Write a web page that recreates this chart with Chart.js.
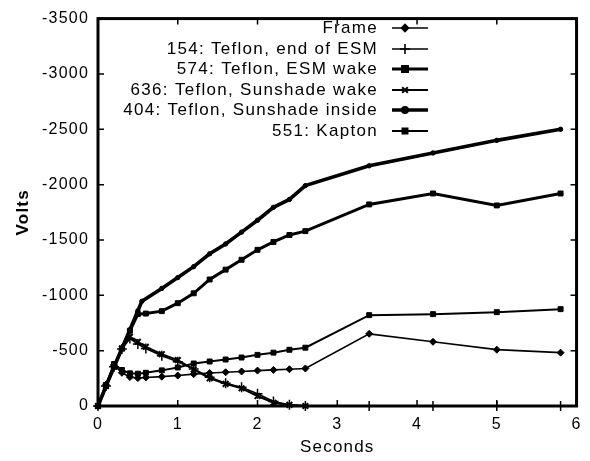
<!DOCTYPE html>
<html>
<head>
<meta charset="utf-8">
<script src="https://cdn.jsdelivr.net/npm/chart.js@4.4.0/dist/chart.umd.min.js"></script>
<style>
  html, body { margin: 0; padding: 0; background: #fff; }
  #wrap { width: 590px; height: 461px; }
</style>
</head>
<body>
<div id="wrap"><canvas id="c" width="590" height="461"></canvas></div>
<script>
// ---- Data (seconds, volts) ----
const seriesLabels = [
  "Frame",
  "154: Teflon, end of ESM",
  "574: Teflon, ESM wake",
  "636: Teflon, Sunshade wake",
  "404: Teflon, Sunshade inside",
  "551: Kapton"
];

const tMain = [0, 0.1, 0.2, 0.3, 0.4, 0.5, 0.6, 0.8, 1.0, 1.2, 1.4, 1.6, 1.8, 2.0, 2.2, 2.4, 2.6, 3.4, 4.2, 5.0, 5.8];

const frameV   = [0, -190, -370, -300, -262, -252, -258, -265, -275, -288, -298, -305, -312, -320, -326, -332, -339, -652, -580, -509, -482];
const esmEndV  = [0, -180, -355, -515, -610, -560, -520, -455, -400, -335, -260, -205, -170, -110, -40, -12, 0, 0, 0, 0, 0];
const esmWakeV = [0, -180, -355, -520, -680, -830, -835, -857, -929, -1018, -1143, -1232, -1321, -1411, -1482, -1545, -1580, -1821, -1920, -1812, -1920];
const kaptonV  = [0, -190, -380, -325, -295, -292, -300, -322, -348, -384, -402, -420, -438, -462, -482, -508, -527, -821, -830, -848, -875];

const tSunWake = [0, 0.1, 0.2, 0.3, 0.4, 0.5, 0.6, 0.8, 1.0, 1.2, 1.4, 1.6, 1.8, 2.0, 2.2, 2.4, 2.6];
const sunWakeV = [0, -180, -355, -520, -625, -580, -535, -468, -415, -330, -250, -200, -160, -90, -30, -10, 0];

const tSunIn = [0, 0.1, 0.2, 0.3, 0.4, 0.5, 0.55, 0.8, 1.0, 1.2, 1.4, 1.6, 1.8, 2.0, 2.2, 2.4, 2.6, 3.4, 4.2, 5.0, 5.8];
const sunInV = [0, -180, -350, -520, -690, -860, -946, -1062, -1160, -1259, -1375, -1464, -1571, -1678, -1795, -1866, -1991, -2170, -2286, -2400, -2500];

const xTicks = [0, 1, 2, 3, 4, 5, 6];
const yTicks = [0, -500, -1000, -1500, -2000, -2500, -3000, -3500];

function pts(xs, ys) { return xs.map((x, i) => ({ x: x, y: ys[i] })); }

const FONT = "'Liberation Sans', Arial, Helvetica, sans-serif";

const styles = [
  { pointStyle: 'rectRot', radius: 3.5, bw: 1.6, pbw: 1 },
  { pointStyle: 'cross', radius: 5, bw: 1.6, pbw: 1.5 },
  { pointStyle: 'rect', radius: 3.5, bw: 3, pbw: 1 },
  { pointStyle: 'crossRot', radius: 4, bw: 2, pbw: 2 },
  { pointStyle: 'circle', radius: 2.2, bw: 3.6, pbw: 1 },
  { pointStyle: 'rect', radius: 3.5, bw: 2, pbw: 1 }
];
const dataList = [
  pts(tMain, frameV), pts(tMain, esmEndV), pts(tMain, esmWakeV),
  pts(tSunWake, sunWakeV), pts(tSunIn, sunInV), pts(tMain, kaptonV)
];

const datasets = seriesLabels.map((lab, i) => ({
  label: lab,
  data: dataList[i],
  borderColor: '#000',
  backgroundColor: '#000',
  borderWidth: styles[i].bw,
  pointStyle: styles[i].pointStyle,
  pointRadius: styles[i].radius,
  pointBorderWidth: styles[i].pbw,
  pointBorderColor: '#000',
  pointBackgroundColor: '#000',
  tension: 0,
  clip: 6
}));

const boxPlugin = {
  id: 'box',
  beforeDraw(chart) {
    chart.ctx.letterSpacing = '1.2px';
  },
  afterDatasetsDraw(chart) {
    const ctx = chart.ctx, a = chart.chartArea;
    const xs = chart.scales.x, ys = chart.scales.y;
    ctx.save();
    ctx.strokeStyle = '#000';
    ctx.lineWidth = 1.5;
    const tl = 6;
    ctx.beginPath();
    xTicks.forEach(v => {
      const px = xs.getPixelForValue(v);
      ctx.moveTo(px, a.bottom); ctx.lineTo(px, a.bottom - tl);
      ctx.moveTo(px, a.top); ctx.lineTo(px, a.top + tl);
    });
    yTicks.forEach(v => {
      const py = ys.getPixelForValue(v);
      ctx.moveTo(a.left, py); ctx.lineTo(a.left + tl, py);
      ctx.moveTo(a.right, py); ctx.lineTo(a.right - tl, py);
    });
    ctx.stroke();
    ctx.lineWidth = 3;
    ctx.strokeRect(a.left, a.top, a.right - a.left, a.bottom - a.top);
    ctx.restore();
  },
  afterDraw(chart) {
    const ctx = chart.ctx;
    ctx.save();
    ctx.letterSpacing = '1.3px';
    ctx.font = '17px ' + FONT;
    ctx.textAlign = 'right';
    ctx.textBaseline = 'middle';
    chart.data.datasets.forEach((ds, i) => {
      const y = Math.round(28 + i * 20.6);
      ctx.fillStyle = '#000';
      ctx.fillText(ds.label, 378, y);
      ctx.strokeStyle = '#000';
      ctx.lineWidth = ds.borderWidth;
      ctx.beginPath();
      ctx.moveTo(392, y); ctx.lineTo(428, y);
      ctx.stroke();
      ctx.fillStyle = '#000';
      Chart.helpers.drawPoint(ctx, {
        pointStyle: ds.pointStyle, radius: ds.pointRadius,
        borderWidth: ds.pointBorderWidth, rotation: 0
      }, 405, y);
    });
    ctx.restore();
  }
};

new Chart(document.getElementById('c'), {
  type: 'line',
  data: { datasets: datasets },
  options: {
    responsive: false,
    animation: false,
    events: [],
    layout: { padding: { left: 0, right: 6, top: 14, bottom: 0 } },
    plugins: { legend: { display: false }, tooltip: { enabled: false }, title: { display: false } },
    scales: {
      x: {
        type: 'linear', min: 0, max: 6,
        afterBuildTicks(s) { s.ticks = xTicks.map(v => ({ value: v })); },
        afterFit(s) { s.height = 55; },
        grid: { display: false, drawTicks: false },
        border: { display: false },
        ticks: { color: '#000', font: { size: 16, family: FONT }, padding: 9, maxRotation: 0, callback: v => String(v) },
        title: { display: true, text: 'Seconds', color: '#000', font: { size: 17, family: FONT }, padding: { top: 2, bottom: 3 } }
      },
      y: {
        type: 'linear', min: -3500, max: 0, reverse: true,
        afterBuildTicks(s) { s.ticks = yTicks.map(v => ({ value: v })); },
        afterFit(s) { s.width = 98; },
        grid: { display: false, drawTicks: false },
        border: { display: false },
        ticks: { color: '#000', font: { size: 16, family: FONT }, padding: 9, callback: v => String(v) },
        title: { display: true, text: 'Volts', color: '#000', font: { size: 17, family: FONT, weight: 'bold' }, padding: { top: 13, bottom: 4 } }
      }
    }
  },
  plugins: [boxPlugin]
});
</script>
</body>
</html>
